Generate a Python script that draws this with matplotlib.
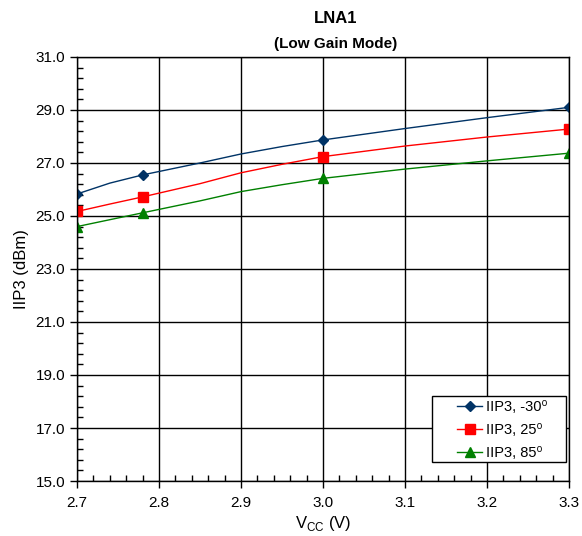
import numpy as np
import matplotlib.pyplot as plt
from matplotlib.patches import Rectangle
from matplotlib.ticker import FormatStrFormatter

plt.rcParams['font.family'] = ['Liberation Sans', 'DejaVu Sans']

# supply voltage (V) and IIP3 (dBm) per temperature
vcc = [2.70, 2.74, 2.78, 2.85, 2.90, 2.95, 3.00, 3.10, 3.20, 3.30]
iip3_m30 = [25.83, 26.24, 26.55, 27.00, 27.34, 27.62, 27.87, 28.30, 28.71, 29.10]
iip3_25 = [25.17, 25.45, 25.72, 26.22, 26.63, 26.95, 27.24, 27.64, 27.98, 28.28]
iip3_85 = [24.60, 24.86, 25.12, 25.57, 25.92, 26.18, 26.42, 26.77, 27.08, 27.37]
labels = ['IIP3, -30\u2070', 'IIP3, 25\u2070', 'IIP3, 85\u2070']
marked = [0, 2, 6, 9]

fig = plt.figure(figsize=(5.82, 5.36), dpi=100)
ax = fig.add_axes([0.1323, 0.1026, 0.8454, 0.7911])

ax.plot(vcc, iip3_m30, color='#003366', lw=1, marker='D', ms=5,
        markevery=marked, label=labels[0])
ax.plot(vcc, iip3_25, color='#FF0000', lw=1, marker='s', ms=6.5,
        markevery=marked, label=labels[1])
ax.plot(vcc, iip3_85, color='#008000', lw=1, marker='^', ms=6.5,
        markevery=marked, label=labels[2])

ax.set_xlim(2.7, 3.3)
ax.set_ylim(15, 31)
ax.set_xticks(np.arange(2.7, 3.31, 0.1))
ax.set_xticks(np.arange(2.7, 3.31, 0.02), minor=True)
ax.set_yticks(np.arange(15, 31.1, 2))
ax.set_yticks(np.arange(15, 31.1, 0.4), minor=True)
ax.xaxis.set_major_formatter(FormatStrFormatter('%.1f'))
ax.yaxis.set_major_formatter(FormatStrFormatter('%.1f'))
ax.tick_params(which='major', direction='out', length=5, width=1,
               labelsize=11, colors='black')
ax.tick_params(axis='x', which='major', pad=6)
ax.tick_params(which='minor', direction='in', length=4, width=1)
ax.grid(True, which='major', color='black', lw=1)
for s in ax.spines.values():
    s.set_color('black')
    s.set_linewidth(1)

ax.set_xlabel('V$_{\\mathregular{CC}}$ (V)', fontsize=12, labelpad=3)
ax.set_ylabel('IIP3 (dBm)', fontsize=12, labelpad=5)

fig.text(0.5775, 0.966, 'LNA1', ha='center', va='center',
         fontsize=12, fontweight='bold')
fig.text(0.5775, 0.918, '(Low Gain Mode)', ha='center', va='center',
         fontsize=11, fontweight='bold')

# legend box drawn separately to get the wide side padding
ax.add_patch(Rectangle((0.7215, 0.045), 0.2725, 0.1555, transform=ax.transAxes,
                       facecolor='white', edgecolor='black', lw=1,
                       zorder=4, clip_on=False))
leg = ax.legend(loc='upper left', bbox_to_anchor=(0.772, 0.19),
                fontsize=10.5, frameon=False, handlelength=1.75,
                borderpad=0, borderaxespad=0, labelspacing=0.6,
                handletextpad=0.25)
leg.set_zorder(5)

fig.savefig('out.png', dpi=100)
